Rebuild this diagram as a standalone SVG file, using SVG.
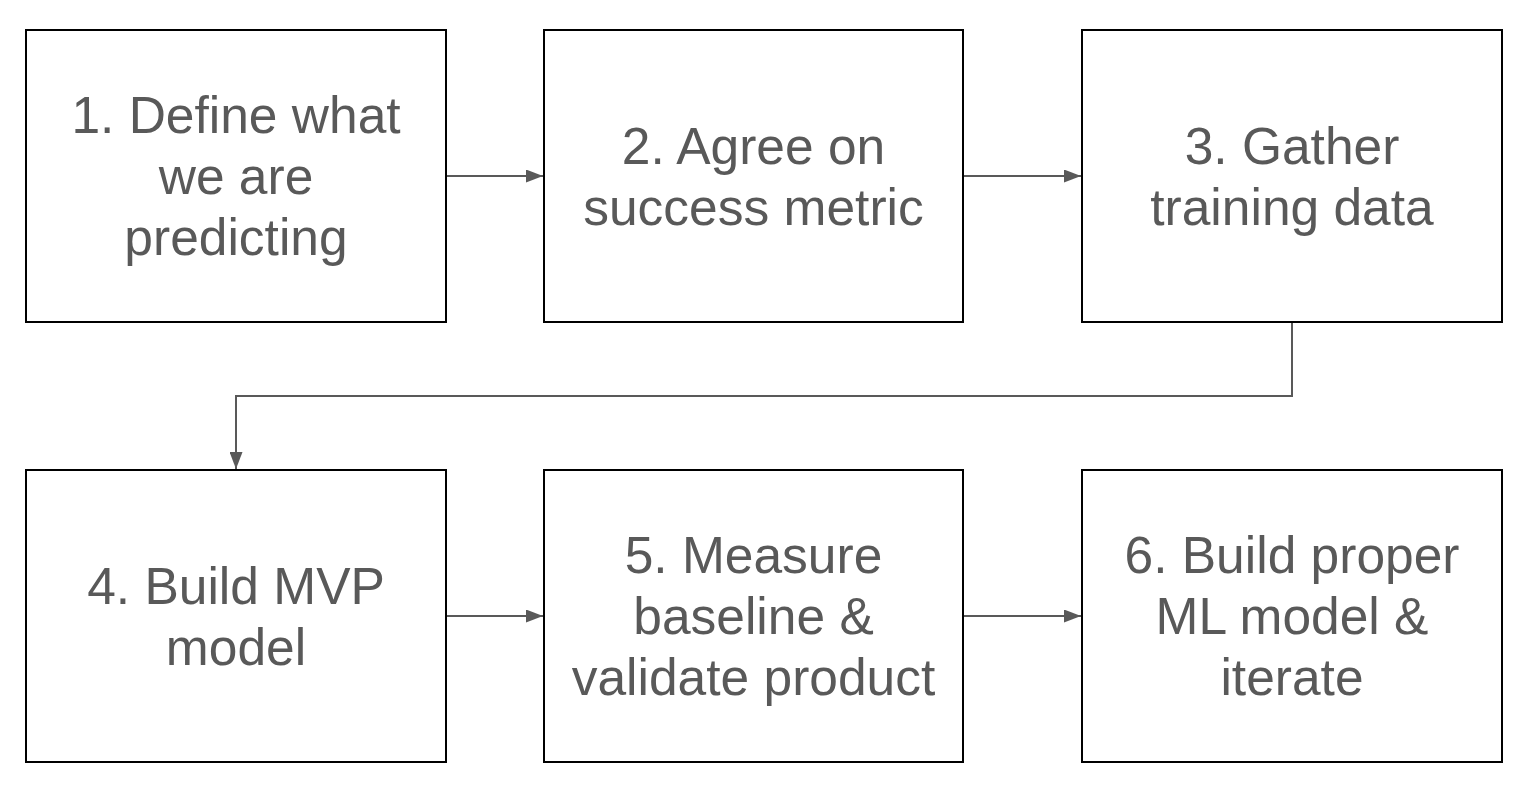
<svg xmlns="http://www.w3.org/2000/svg" width="1530" height="786" viewBox="0 0 1530 786">
<defs>
<marker id="arr" markerWidth="17" markerHeight="13" refX="17" refY="6.5" orient="auto" markerUnits="userSpaceOnUse">
<path d="M0,0 L17,6.5 L0,13 Z" fill="#595959"/>
</marker>
<style>
.box{fill:#fff;stroke:#000;stroke-width:2}
.t{font-family:"Liberation Sans",Arial,sans-serif;font-size:51.5px;fill:#595959;text-anchor:middle}
.c{fill:none;stroke:#595959;stroke-width:2;marker-end:url(#arr)}
</style>
</defs>
<rect width="1530" height="786" fill="#fff"/>
<g id="connectors">
<path class="c" d="M446,176 H543"/>
<path class="c" d="M963,176 H1081"/>
<path class="c" d="M1292,322 V396 H236 V469"/>
<path class="c" d="M446,616 H543"/>
<path class="c" d="M963,616 H1081"/>
</g>
<g id="n1"><rect class="box" x="26" y="30" width="420" height="292"/>
<text class="t" x="236" y="133">1. Define what</text><text class="t" x="236" y="194">we are</text><text class="t" x="236" y="255">predicting</text></g>
<g id="n2"><rect class="box" x="544" y="30" width="419" height="292"/>
<text class="t" x="753.5" y="164">2. Agree on</text><text class="t" x="753.5" y="225">success metric</text></g>
<g id="n3"><rect class="box" x="1082" y="30" width="420" height="292"/>
<text class="t" x="1292" y="164">3. Gather</text><text class="t" x="1292" y="225">training data</text></g>
<g id="n4"><rect class="box" x="26" y="470" width="420" height="292"/>
<text class="t" x="236" y="604">4. Build MVP</text><text class="t" x="236" y="665">model</text></g>
<g id="n5"><rect class="box" x="544" y="470" width="419" height="292"/>
<text class="t" x="753.5" y="573">5. Measure</text><text class="t" x="753.5" y="634">baseline &amp;</text><text class="t" x="753.5" y="695">validate product</text></g>
<g id="n6"><rect class="box" x="1082" y="470" width="420" height="292"/>
<text class="t" x="1292" y="573">6. Build proper</text><text class="t" x="1292" y="634">ML model &amp;</text><text class="t" x="1292" y="695">iterate</text></g>
</svg>
